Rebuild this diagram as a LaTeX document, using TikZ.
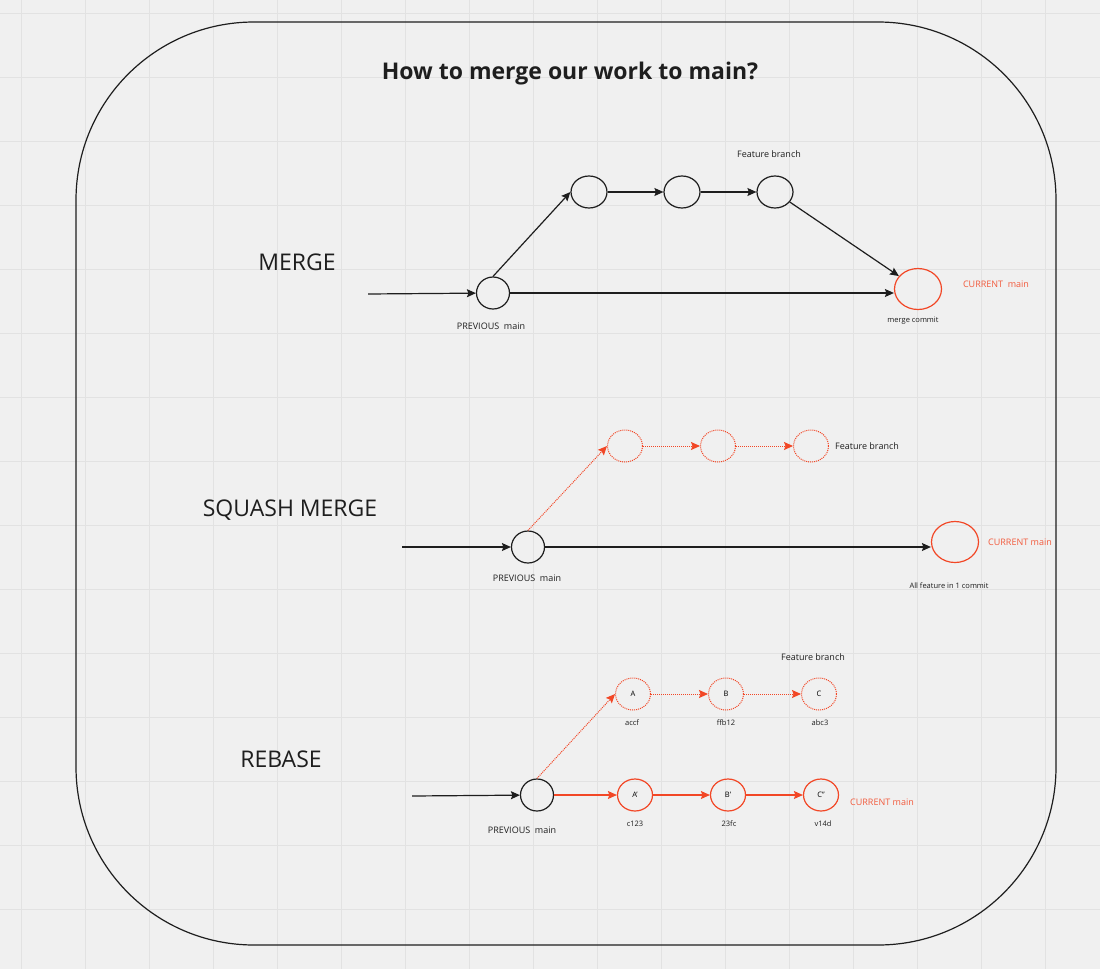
\documentclass[tikz,border=0pt]{standalone}
\usepackage{fontspec}
\setmainfont{Open Sans}
\usetikzlibrary{arrows.meta,positioning,shapes.geometric}
\definecolor{mirored}{HTML}{F24726}
\definecolor{labelred}{HTML}{F25A3C}
\definecolor{ink}{HTML}{1E1E1E}
\definecolor{canvas}{HTML}{F0F0F0}
\definecolor{gridline}{HTML}{E2E2E2}
\begin{document}
\begin{tikzpicture}[x=1pt,y=-1pt,node distance=93pt,>={Stealth[length=9pt,width=8pt,inset=1.5pt]},commit/.style={ellipse, draw=ink, line width=1.2pt, minimum width=33pt, minimum height=32pt, inner sep=0pt},oldcommit/.style={ellipse, draw=mirored, densely dotted, line width=1pt, minimum width=35pt, minimum height=32pt, inner sep=0pt, font=\fontsize{7.5}{9}\selectfont},newcommit/.style={ellipse, draw=mirored, line width=1.2pt, minimum width=35pt, minimum height=32pt, inner sep=0pt, font=\fontsize{7.5}{9}\selectfont},headcommit/.style={ellipse, draw=mirored, line width=1.2pt, minimum width=47pt, minimum height=41pt, inner sep=0pt},heading/.style={font=\fontsize{23}{27}\selectfont, text=ink, inner sep=0pt},note/.style={font=\fontsize{9}{11}\selectfont, text=ink, inner sep=0pt},smallnote/.style={font=\fontsize{7.5}{9}\selectfont, text=ink, inner sep=0pt},rednote/.style={font=\fontsize{9}{11}\selectfont, text=labelred, inner sep=0pt},mainline/.style={->, draw=ink, line width=1.2pt},redline/.style={->, draw=mirored, line width=1.2pt},dotline/.style={->, draw=mirored, densely dotted, line width=1pt}]
            \useasboundingbox (0,0) rectangle (1100,969);
            \fill[canvas] (0,0) rectangle (1100,969);
            \foreach \gx in {21,85,...,1100} \draw[gridline, line width=1pt] (\gx,0) -- (\gx,969);
            \foreach \gy in {13,77,...,969} \draw[gridline, line width=1pt] (0,\gy) -- (1100,\gy);
            \draw[ink, line width=1.2pt, rounded corners=178pt] (76,22) rectangle (1056,945);
            \node[font=\bfseries\fontsize{23}{27}\selectfont, text=ink, inner sep=0pt] (title) at (570,74) {How to merge our work to main?};
            % merge
            \node[heading] (mergetitle) at (297,262) {MERGE};
            \node[commit] (mprev) at (493,293) {};
            \node[commit, minimum width=36pt] (mf1) at (589,192) {};
            \node[commit, minimum width=36pt, right of=mf1] (mf2) {};
            \node[commit, minimum width=36pt, right of=mf2] (mf3) {};
            \node[headcommit] (mhead) at (918,289) {};
            \coordinate (min) at (368,294);
            \node[note] (mfeat) at (769,154) {Feature branch};
            \node[note] (mprevtxt) at (491,326) {PREVIOUS~~main};
            \node[smallnote] (mheadtxt) at (913,321) {merge commit};
            \node[rednote] (mcur) at (996,284) {CURRENT~~main};
            \draw[mainline] (min) -- (mprev);
            \draw[mainline] (mprev.north) -- (mf1.west);
            \draw[mainline] (mf1) -- (mf2);
            \draw[mainline] (mf2) -- (mf3);
            \draw[mainline] (mf3) -- (mhead);
            \draw[mainline] (mprev) -- (mprev -| mhead.west);
            % squash merge
            \node[heading] (squashtitle) at (290,510) {SQUASH MERGE};
            \node[commit] (sprev) at (528,547) {};
            \node[oldcommit] (sf1) at (625,446) {};
            \node[oldcommit, right of=sf1] (sf2) {};
            \node[oldcommit, right of=sf2] (sf3) {};
            \node[headcommit] (shead) at (955,542) {};
            \coordinate (sin) at (402,547);
            \node[note, anchor=west] (sfeat) at (835,446) {Feature branch};
            \node[note] (sprevtxt) at (527,578) {PREVIOUS~~main};
            \node[smallnote] (sheadtxt) at (949,586) {All feature in 1 commit};
            \node[rednote] (scur) at (1020,542) {CURRENT main};
            \draw[mainline] (sin) -- (sprev);
            \draw[dotline] (sprev.north) -- (sf1.west);
            \draw[dotline] (sf1) -- (sf2);
            \draw[dotline] (sf2) -- (sf3);
            \draw[mainline] (sprev) -- (sprev -| shead.west);
            % rebase
            \node[heading] (rebasetitle) at (281,759) {REBASE};
            \node[commit] (rprev) at (537,795) {};
            \node[oldcommit] (ra) at (633,694) {A};
            \node[oldcommit, right of=ra] (rb) {B};
            \node[oldcommit, right of=rb] (rc) {C};
            \node[newcommit] (rna) at (635,795) {A'};
            \node[newcommit, right of=rna] (rnb) {B'};
            \node[newcommit, right of=rnb] (rnc) {C''};
            \coordinate (rin) at (412,796);
            \node[note] (rfeat) at (813,657) {Feature branch};
            \node[smallnote] (rahash) at (632,723) {accf};
            \node[smallnote] (rbhash) at (726,723) {ffb12};
            \node[smallnote] (rchash) at (820,723) {abc3};
            \node[smallnote] (rnahash) at (635,824) {c123};
            \node[smallnote] (rnbhash) at (729,824) {23fc};
            \node[smallnote] (rnchash) at (823,824) {v14d};
            \node[note] (rprevtxt) at (522,830) {PREVIOUS~~main};
            \node[rednote] (rcur) at (882,802) {CURRENT main};
            \draw[mainline] (rin) -- (rprev);
            \draw[dotline] (rprev.north) -- (ra.west);
            \draw[dotline] (ra) -- (rb);
            \draw[dotline] (rb) -- (rc);
            \draw[redline] (rprev) -- (rna);
            \draw[redline] (rna) -- (rnb);
            \draw[redline] (rnb) -- (rnc);
        \end{tikzpicture}
\end{document}
